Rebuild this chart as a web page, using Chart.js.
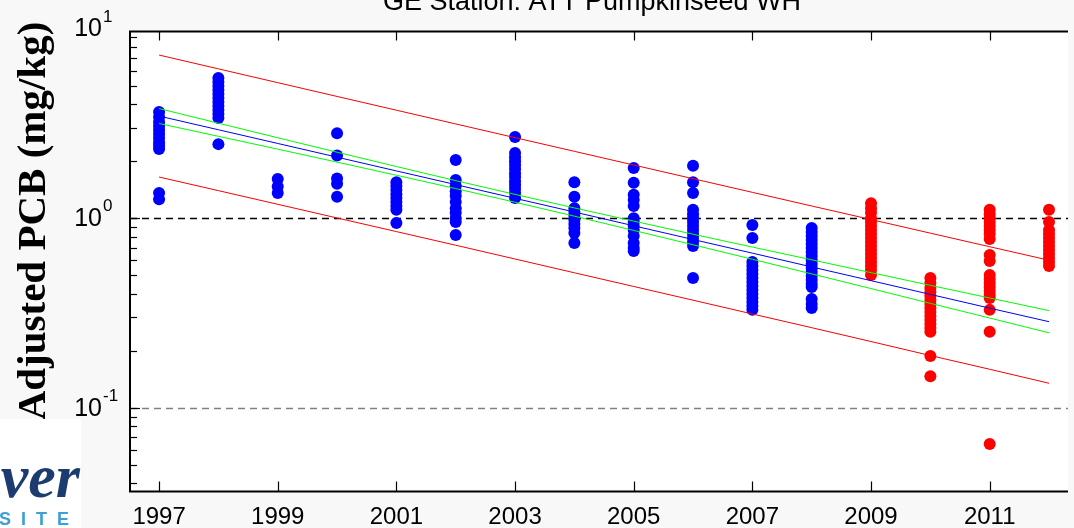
<!DOCTYPE html>
<html><head><meta charset="utf-8">
<script src="https://cdn.jsdelivr.net/npm/chart.js@4"></script>
<style>html,body{margin:0;padding:0;background:#f8f8f8;overflow:hidden}canvas{display:block}</style>
</head><body>
<canvas id="c" width="1074" height="528"></canvas>
<script>
const titleText = "GE Station: ATT Pumpkinseed WH";
const yAxisTitle = "Adjusted PCB (mg/kg)";
const xTickLabels = ["1997","1999","2001","2003","2005","2007","2009","2011"];
const yTickExponents = [1, 0, -1];

const fitYears = [1997,1998,1999,2000,2001,2002,2003,2004,2005,2006,2007,2008,2009,2010,2011,2012];
const fitLine   = [3.459,2.929,2.480,2.100,1.777,1.505,1.274,1.079,0.913,0.773,0.655,0.554,0.469,0.397,0.336,0.285];
const confUpper = [3.789,3.172,2.658,2.230,1.874,1.579,1.336,1.134,0.966,0.824,0.705,0.604,0.517,0.443,0.380,0.326];
const confLower = [3.159,2.705,2.314,1.977,1.686,1.434,1.215,1.026,0.863,0.725,0.608,0.509,0.426,0.356,0.298,0.249];
const predUpper = [7.255,6.134,5.188,4.389,3.714,3.143,2.661,2.254,1.909,1.617,1.370,1.161,0.985,0.835,0.708,0.601];
const predLower = [1.650,1.399,1.185,1.004,0.851,0.721,0.610,0.516,0.437,0.370,0.313,0.265,0.224,0.189,0.160,0.135];

const blueYears = [1997,1998,1999,2000,2001,2002,2003,2004,2005,2006,2007,2008];
const blueValues = [
  [3.63,3.42,3.22,3.07,2.92,2.78,2.65,2.52,2.41,2.32,1.36,1.26],
  [5.49,5.23,4.98,4.75,4.52,4.31,4.10,3.91,3.72,3.55,3.38,2.46],
  [1.61,1.47,1.36],
  [2.81,2.14,1.62,1.52,1.30],
  [1.55,1.48,1.41,1.34,1.28,1.22,1.16,1.11,0.944],
  [2.03,1.59,1.48,1.39,1.31,1.22,1.13,1.07,1.00,0.956,0.817],
  [2.68,2.21,2.10,2.00,1.91,1.82,1.73,1.65,1.57,1.50,1.43,1.36,1.28],
  [1.55,1.30,1.13,1.08,1.03,0.98,0.933,0.889,0.837,0.741],
  [1.84,1.54,1.33,1.25,1.16,1.00,0.956,0.911,0.868,0.807,0.741,0.697,0.672],
  [1.89,1.55,1.36,1.11,1.05,1.00,0.956,0.911,0.868,0.827,0.787,0.750,0.714,0.484],
  [0.922,0.787,0.588,0.560,0.534,0.508,0.484,0.461,0.440,0.419,0.399,0.380,0.362,0.345,0.329],
  [0.889,0.847,0.807,0.768,0.732,0.697,0.664,0.633,0.603,0.574,0.547,0.521,0.496,0.473,0.450,0.434,0.375,0.353,0.337]
];
const redYears = [2009,2010,2011,2012];
const redValues = [
  [1.20,1.13,1.07,1.00,0.956,0.911,0.868,0.827,0.787,0.750,0.714,0.681,0.648,0.618,0.588,0.560,0.534,0.503],
  [0.484,0.456,0.429,0.409,0.390,0.371,0.353,0.337,0.321,0.305,0.291,0.277,0.264,0.252,0.188,0.147],
  [1.11,1.05,1.00,0.956,0.911,0.868,0.827,0.778,0.640,0.596,0.503,0.479,0.456,0.434,0.414,0.394,0.380,0.329,0.252,0.0646],
  [1.11,0.956,0.868,0.827,0.787,0.750,0.714,0.681,0.648,0.618,0.588,0.560]
];

function pts(years, vals){ return years.map((x,i)=>({x:x,y:vals[i]})); }
function groupPts(years, groups){ const out=[]; years.forEach((x,i)=>groups[i].forEach(v=>out.push({x:x,y:v}))); return out; }

const lineDs = (data, color) => ({data:data, showLine:true, borderColor:color, borderWidth:1, pointRadius:0, pointHoverRadius:0, fill:false, tension:0, order:0});

const deco = {
  id:'deco',
  beforeDraw(chart){
    const {ctx, chartArea:a} = chart;
    ctx.save();
    ctx.fillStyle='#f8f8f8'; ctx.fillRect(0,0,chart.width,chart.height);
    ctx.fillStyle='#ffffff'; ctx.fillRect(a.left,a.top,a.right-a.left,a.bottom-a.top);
    ctx.restore();
  },
  beforeDatasetsDraw(chart){
    const {ctx, chartArea:a, scales:{y}} = chart;
    ctx.save();
    ctx.lineWidth=1.5; ctx.setLineDash([7,5]);
    [[1,'#000000'],[0.1,'#808080']].forEach(([v,c])=>{
      const py=Math.round(y.getPixelForValue(v))+0.5;
      ctx.strokeStyle=c; ctx.beginPath(); ctx.moveTo(a.left,py); ctx.lineTo(a.right,py); ctx.stroke();
    });
    ctx.restore();
  },
  afterDraw(chart){
    const {ctx, chartArea:a, scales:{x,y}} = chart;
    ctx.save();
    ctx.strokeStyle='#000'; ctx.lineWidth=2;
    ctx.beginPath(); ctx.moveTo(a.right,a.top); ctx.lineTo(a.left,a.top); ctx.lineTo(a.left,a.bottom); ctx.lineTo(a.right,a.bottom); ctx.stroke();
    ctx.lineWidth=1.2;
    xTickLabels.forEach(l=>{
      const px=Math.round(x.getPixelForValue(+l))+0.5;
      ctx.beginPath(); ctx.moveTo(px,a.top); ctx.lineTo(px,a.top+9); ctx.stroke();
      ctx.beginPath(); ctx.moveTo(px,a.bottom); ctx.lineTo(px,a.bottom-10); ctx.stroke();
    });
    for(let d=-2; d<=0; d++){
      for(let m=2;m<=9;m++){
        const v=m*Math.pow(10,d);
        if(v<y.min||v>y.max) continue;
        const py=Math.round(y.getPixelForValue(v))+0.5;
        ctx.beginPath(); ctx.moveTo(a.left,py); ctx.lineTo(a.left+7,py); ctx.stroke();
      }
    }
    [1,0.1].forEach(v=>{const py=Math.round(y.getPixelForValue(v))+0.5; ctx.beginPath(); ctx.moveTo(a.left,py); ctx.lineTo(a.left+10,py); ctx.stroke();});
    ctx.fillStyle='#000'; ctx.font='24px "Liberation Sans", Arial, sans-serif';
    ctx.textAlign='center'; ctx.textBaseline='alphabetic';
    xTickLabels.forEach(l=>{ ctx.fillText(l, x.getPixelForValue(+l), 524); });
    yTickExponents.forEach(e=>{
      const py=y.getPixelForValue(Math.pow(10,e));
      ctx.font='25px "Liberation Sans", Arial, sans-serif'; ctx.textAlign='right'; ctx.textBaseline='middle';
      ctx.fillText('10', 102, py+1);
      ctx.font='17px "Liberation Sans", Arial, sans-serif'; ctx.textAlign='left'; ctx.textBaseline='alphabetic';
      ctx.fillText(e<0?'-'+Math.abs(e):String(e), 103, py-7);
    });
    ctx.font='27px "Liberation Sans", Arial, sans-serif'; ctx.textAlign='center'; ctx.textBaseline='alphabetic';
    ctx.fillText(titleText, 592, 10);
    ctx.save();
    ctx.translate(45, 221); ctx.rotate(-Math.PI/2);
    ctx.font='bold 41px "Liberation Serif", "Times New Roman", serif'; ctx.textAlign='center';
    ctx.fillText(yAxisTitle, 0, 0);
    ctx.restore();
    ctx.fillStyle='#ffffff'; ctx.fillRect(0,419,81,109);
    ctx.fillStyle='#1c3b6e'; ctx.font='italic bold 62px "Liberation Serif", "Times New Roman", serif';
    ctx.textAlign='right'; ctx.fillText('ver', 80, 497);
    ctx.fillStyle='#3d9fd6'; ctx.font='bold 18px "Liberation Sans", Arial, sans-serif'; ctx.textAlign='left';
    try{ ctx.letterSpacing='10px'; }catch(e){}
    ctx.fillText('SITE', -1, 525);
    ctx.restore();
  }
};

new Chart(document.getElementById('c').getContext('2d'), {
  type:'scatter',
  data:{datasets:[
    lineDs(pts(fitYears,predUpper),'#ff0000'),
    lineDs(pts(fitYears,predLower),'#ff0000'),
    lineDs(pts(fitYears,confUpper),'#00ff00'),
    lineDs(pts(fitYears,confLower),'#00ff00'),
    lineDs(pts(fitYears,fitLine),'#0000ff'),
    {data:groupPts(blueYears,blueValues), backgroundColor:'#0000ff', borderWidth:0, pointRadius:6, pointHoverRadius:6, order:1},
    {data:groupPts(redYears,redValues), backgroundColor:'#ff0000', borderWidth:0, pointRadius:6, pointHoverRadius:6, order:1}
  ]},
  options:{
    responsive:false, animation:false, devicePixelRatio:1,
    layout:{padding:{left:130,top:31.5,right:0,bottom:36.5}},
    plugins:{legend:{display:false},tooltip:{enabled:false},title:{display:false}},
    scales:{
      x:{type:'linear',min:1996.51,max:2012.32,display:false},
      y:{type:'logarithmic',min:0.03628,max:9.654,display:false}
    }
  },
  plugins:[deco]
});
</script>
</body></html>
